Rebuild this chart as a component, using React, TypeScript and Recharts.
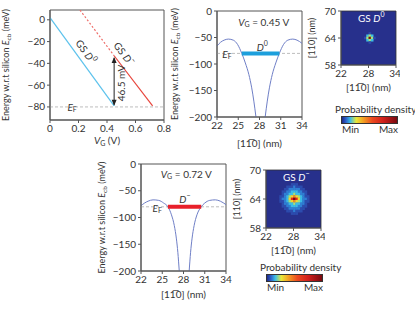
import React from 'react';
import {
  LineChart, Line, XAxis, YAxis, ReferenceLine, ReferenceArea, ReferenceDot,
  ScatterChart, Scatter,
} from 'recharts';

const FONT = 'Lato, "Open Sans", "DejaVu Sans", sans-serif';
const TXT = '#333';
const AX = '#555';

// ---------- Panel A: ground-state energies vs gate voltage ----------
const vgTicks = [0, 0.2, 0.4, 0.6, 0.8];
const energyTicksA = [-80, -60, -40, -20, 0];
const gsD0Line = [{ vg: 0, e: 2 }, { vg: 0.45, e: -79 }];
const gsDmDashed = [{ vg: 0.21, e: 9 }, { vg: 0.45, e: -33 }];
const gsDmSolid = [{ vg: 0.45, e: -33 }, { vg: 0.72, e: -79 }];
const chargingArrow = [{ vg: 0.45, e: -35 }, { vg: 0.45, e: -78 }];
const fermiLevel = -80;

// ---------- Panels B / D: potential profile along [1-10] ----------
const posTicks = [22, 25, 28, 31, 34];
const energyTicksB = [-200, -150, -100, -50, 0];

const potD0Left = [
  { x: 22, e: -66 }, { x: 22.5, e: -59 }, { x: 23, e: -55 }, { x: 23.6, e: -53 },
  { x: 24.3, e: -55 }, { x: 24.9, e: -63 }, { x: 25.5, e: -80 }, { x: 26.0, e: -98 },
  { x: 26.5, e: -120 }, { x: 26.9, e: -145 }, { x: 27.2, e: -170 }, { x: 27.5, e: -200 },
];
const potD0Right = [
  { x: 28.8, e: -200 }, { x: 29.1, e: -170 }, { x: 29.4, e: -145 }, { x: 29.8, e: -120 },
  { x: 30.3, e: -98 }, { x: 30.8, e: -80 }, { x: 31.4, e: -63 }, { x: 32.0, e: -55 },
  { x: 32.7, e: -53 }, { x: 33.3, e: -55 }, { x: 34, e: -61 },
];
const levelD0 = [{ x: 25.5, e: -80 }, { x: 30.8, e: -80 }];

const potDmLeft = [
  { x: 22, e: -78 }, { x: 22.5, e: -73 }, { x: 23, e: -69.5 }, { x: 23.7, e: -67 },
  { x: 24.5, e: -68 }, { x: 25.2, e: -73 }, { x: 25.8, e: -80 }, { x: 26.3, e: -95 },
  { x: 26.7, e: -115 }, { x: 27.0, e: -140 }, { x: 27.2, e: -165 }, { x: 27.4, e: -200 },
];
const potDmRight = [
  { x: 28.8, e: -200 }, { x: 29.0, e: -165 }, { x: 29.2, e: -140 }, { x: 29.5, e: -115 },
  { x: 29.9, e: -95 }, { x: 30.5, e: -80 }, { x: 31.0, e: -73 }, { x: 31.7, e: -68 },
  { x: 32.5, e: -67 }, { x: 33.2, e: -69.5 }, { x: 34, e: -76 },
];
const levelDm = [{ x: 25.8, e: -80 }, { x: 30.5, e: -80 }];

// ---------- Heatmaps: probability density (levels 0..8) ----------
const mapXTicks = [22, 28, 34];
const mapYTicks = [58, 64, 70];
const cellStep = 0.5; // nm
const levelColors = ['#27308c', '#2c4cae', '#2f80d4', '#3bbde6', '#a6e27a', '#f4d62e', '#f08a24', '#e0261c', '#7a0a10'];
const densityD0 = [
  [0, 0, 1, 0, 0],
  [0, 3, 4, 3, 0],
  [1, 4, 8, 4, 1],
  [0, 3, 4, 3, 0],
  [0, 0, 1, 0, 0],
];
const centerD0 = { x: 28.3, y: 64 };
const densityDm = [
  [0, 0, 0, 0, 0, 1, 1, 1, 0, 0, 0, 0, 0],
  [0, 0, 0, 1, 1, 1, 2, 1, 1, 1, 0, 0, 0],
  [0, 0, 1, 1, 2, 2, 2, 2, 2, 1, 1, 0, 0],
  [0, 1, 1, 2, 2, 3, 3, 3, 2, 2, 1, 1, 0],
  [0, 1, 2, 2, 3, 3, 4, 3, 3, 2, 2, 1, 0],
  [1, 1, 2, 3, 4, 5, 6, 5, 4, 3, 2, 1, 1],
  [1, 2, 2, 3, 5, 7, 8, 7, 5, 3, 2, 2, 1],
  [1, 1, 2, 3, 4, 5, 6, 5, 4, 3, 2, 1, 1],
  [0, 1, 2, 2, 3, 3, 4, 3, 3, 2, 2, 1, 0],
  [0, 1, 1, 2, 2, 3, 3, 3, 2, 2, 1, 1, 0],
  [0, 0, 1, 1, 2, 2, 2, 2, 2, 1, 1, 0, 0],
  [0, 0, 0, 1, 1, 1, 2, 1, 1, 1, 0, 0, 0],
  [0, 0, 0, 0, 0, 1, 1, 1, 0, 0, 0, 0, 0],
];
const centerDm = { x: 28.2, y: 64 };

const toCells = (grid: number[][], c: { x: number; y: number }) => {
  const n = grid.length;
  const h = (n - 1) / 2;
  const out: { x: number; y: number; v: number }[] = [];
  grid.forEach((row, r) =>
    row.forEach((v, k) => {
      if (v > 0) out.push({ x: c.x + (k - h) * cellStep, y: c.y - (r - h) * cellStep, v });
    })
  );
  return out;
};

const minus = (v: number) => String(v).replace('-', '\u2212');
const tickStyle = { fontSize: 10, fill: TXT, fontFamily: FONT };

const energyLabel = (dx: number) => (props: any) => {
  const vb = props.viewBox;
  const x = vb.x + dx;
  const y = vb.y + vb.height / 2;
  return (
    <text x={x} y={y} transform={`rotate(-90 ${x} ${y})`} textAnchor="middle" fontSize={9} fill={TXT} fontFamily={FONT}>
      Energy w.r.t silicon <tspan fontStyle="italic">E</tspan>
      <tspan fontSize={6.5} dy={2}>cb</tspan>
      <tspan dy={-2}> (meV)</tspan>
    </text>
  );
};

const posLabel = (dy: number) => (props: any) => {
  const vb = props.viewBox;
  const x = vb.x + vb.width / 2;
  const y = vb.y + dy;
  return (
    <text x={x} y={y} textAnchor="middle" fontSize={10} fill={TXT} fontFamily={FONT}>
      [11{'\u0305'}0] (nm)
    </text>
  );
};

const arrowDot = (p: any) => {
  const { cx, cy, index } = p;
  const d = index === 0
    ? `M${cx},${cy - 1} L${cx - 2.5},${cy + 5} L${cx + 2.5},${cy + 5} Z`
    : `M${cx},${cy + 1} L${cx - 2.5},${cy - 5} L${cx + 2.5},${cy - 5} Z`;
  return <path key={`arr${index}`} d={d} fill="#222" />;
};

const EF = (cx: number, cy: number) => (
  <text x={cx} y={cy} textAnchor="middle" dominantBaseline="central" fontSize={10} fill={TXT} fontFamily={FONT}>
    <tspan fontStyle="italic">E</tspan>
    <tspan fontSize={7} dy={2}>F</tspan>
  </text>
);

function PanelA() {
  return (
    <LineChart width={175} height={150} margin={{ top: 10, right: 11, left: 0, bottom: 0 }}>
      <XAxis type="number" dataKey="vg" domain={[0, 0.8]} ticks={vgTicks} tick={tickStyle} tickSize={3}
        stroke={AX} height={30} allowDuplicatedCategory={false}
        label={{
          content: (props: any) => {
            const vb = props.viewBox;
            const x = vb.x + vb.width / 2;
            return (
              <text x={x} y={vb.y + 24} textAnchor="middle" fontSize={10} fill={TXT} fontFamily={FONT}>
                <tspan fontStyle="italic">V</tspan>
                <tspan fontSize={7} dy={2}>G</tspan>
                <tspan dy={-2}> (V)</tspan>
              </text>
            );
          },
        }} />
      <YAxis type="number" dataKey="e" domain={[-92, 9]} ticks={energyTicksA} tick={tickStyle} tickSize={3}
        tickFormatter={minus} stroke={AX} width={50} allowDataOverflow
        label={{ content: energyLabel(9) }} />
      <ReferenceArea x1={0} x2={0.8} y1={-92} y2={9} fill="none" stroke={AX} strokeWidth={1} />
      <ReferenceLine y={fermiLevel} stroke="#bdbdbd" strokeDasharray="3 2" />
      <Line data={gsD0Line} dataKey="e" stroke="#5cc2ec" strokeWidth={1.2} dot={false} isAnimationActive={false} />
      <Line data={gsDmDashed} dataKey="e" stroke="#ee6e6a" strokeWidth={1.2} strokeDasharray="2 2" dot={false} isAnimationActive={false} />
      <Line data={gsDmSolid} dataKey="e" stroke="#e8453c" strokeWidth={1.2} dot={false} isAnimationActive={false} />
      <Line data={chargingArrow} dataKey="e" stroke="#222" strokeWidth={1} dot={arrowDot} isAnimationActive={false} />
      <ReferenceDot x={0.155} y={-80} shape={(p: any) => EF(p.cx, p.cy)} />
      <ReferenceDot x={0.5} y={-58} shape={(p: any) => (
        <text x={p.cx} y={p.cy} transform={`rotate(-90 ${p.cx} ${p.cy})`} textAnchor="middle" dominantBaseline="central" fontSize={10} fill={TXT} fontFamily={FONT}>46.5 mV</text>
      )} />
      <ReferenceDot x={0.253} y={-29} shape={(p: any) => (
        <text x={p.cx} y={p.cy} transform={`rotate(54 ${p.cx} ${p.cy})`} textAnchor="middle" dominantBaseline="central" fontSize={10} fill={TXT} fontFamily={FONT}>
          GS <tspan fontStyle="italic">D</tspan><tspan fontSize={7} dy={-4}>0</tspan>
        </text>
      )} />
      <ReferenceDot x={0.52} y={-31} shape={(p: any) => (
        <text x={p.cx} y={p.cy} transform={`rotate(53 ${p.cx} ${p.cy})`} textAnchor="middle" dominantBaseline="central" fontSize={10} fill={TXT} fontFamily={FONT}>
          GS <tspan fontStyle="italic">D</tspan><tspan fontSize={7} dy={-4}>{'\u2212'}</tspan>
        </text>
      )} />
    </LineChart>
  );
}

function PotentialPanel(props: {
  width: number; height: number; margin: any; yWidth: number; xHeight: number; labelDx: number; labelDy: number;
  left: any[]; right: any[]; level: any[]; levelColor: string; vg: string; state: string;
  vgPos: [number, number]; statePos: [number, number]; efPos: [number, number];
}) {
  const p = props;
  return (
    <LineChart width={p.width} height={p.height} margin={p.margin}>
      <XAxis type="number" dataKey="x" domain={[22, 34]} ticks={posTicks} tick={tickStyle} tickSize={3}
        stroke={AX} height={p.xHeight} label={{ content: posLabel(p.labelDy) }} />
      <YAxis type="number" dataKey="e" domain={[-200, 0]} ticks={energyTicksB} tick={tickStyle} tickSize={3}
        tickFormatter={minus} stroke={AX} width={p.yWidth} allowDataOverflow
        label={{ content: energyLabel(p.labelDx) }} />
      <ReferenceArea x1={22} x2={34} y1={-200} y2={0} fill="none" stroke={AX} strokeWidth={1} />
      <ReferenceLine y={fermiLevel} stroke="#bdbdbd" strokeDasharray="3 2" />
      <Line data={p.left} dataKey="e" type="monotone" stroke="#6f7fc6" strokeWidth={1} dot={false} isAnimationActive={false} />
      <Line data={p.right} dataKey="e" type="monotone" stroke="#6f7fc6" strokeWidth={1} dot={false} isAnimationActive={false} />
      <Line data={p.level} dataKey="e" stroke={p.levelColor} strokeWidth={4} dot={false} isAnimationActive={false} />
      <ReferenceDot x={p.efPos[0]} y={p.efPos[1]} shape={(q: any) => EF(q.cx, q.cy)} />
      <ReferenceDot x={p.vgPos[0]} y={p.vgPos[1]} shape={(q: any) => (
        <text x={q.cx} y={q.cy} textAnchor="middle" dominantBaseline="central" fontSize={10} fill={TXT} fontFamily={FONT}>
          <tspan fontStyle="italic">V</tspan><tspan fontSize={7} dy={2}>G</tspan><tspan dy={-2}> = {p.vg} V</tspan>
        </text>
      )} />
      <ReferenceDot x={p.statePos[0]} y={p.statePos[1]} shape={(q: any) => (
        <text x={q.cx} y={q.cy} textAnchor="middle" dominantBaseline="central" fontSize={10} fill={TXT} fontFamily={FONT}>
          <tspan fontStyle="italic">D</tspan><tspan fontSize={7} dy={-4}>{p.state}</tspan>
        </text>
      )} />
    </LineChart>
  );
}

function Heatmap(props: { grid: number[][]; center: { x: number; y: number }; state: string; marginTop: number; plotH: number; xHeight: number }) {
  const W = 100;
  const plotW = 55;
  const plotH = props.plotH;
  const H = props.marginTop + plotH + props.xHeight;
  const cw = (plotW / 12) * cellStep + 0.35;
  const ch = (plotH / 12) * cellStep + 0.35;
  const cells = toCells(props.grid, props.center);
  return (
    <ScatterChart width={W} height={H} margin={{ top: props.marginTop, right: W - 41 - plotW, left: 0, bottom: 0 }}>
      <XAxis type="number" dataKey="x" domain={[22, 34]} ticks={mapXTicks} tick={tickStyle} tickSize={3}
        stroke={AX} height={props.xHeight} label={{ content: posLabel(26) }} />
      <YAxis type="number" dataKey="y" domain={[58, 70]} ticks={mapYTicks} tick={tickStyle} tickSize={3}
        stroke={AX} width={41}
        label={{
          content: (q: any) => {
            const vb = q.viewBox;
            const x = vb.x + 15;
            const y = vb.y + vb.height / 2;
            return (
              <text x={x} y={y} transform={`rotate(-90 ${x} ${y})`} textAnchor="middle" fontSize={9} fill={TXT} fontFamily={FONT}>[110] (nm)</text>
            );
          },
        }} />
      <ReferenceArea x1={22} x2={34} y1={58} y2={70} fill={levelColors[0]} fillOpacity={1} stroke="#333" strokeWidth={0.8} />
      <Scatter data={cells} isAnimationActive={false} shape={(q: any) => (
        <rect x={q.cx - cw / 2} y={q.cy - ch / 2} width={cw} height={ch} fill={levelColors[q.payload.v]} />
      )} />
      <ReferenceDot x={28.6} y={68.5} shape={(q: any) => (
        <text x={q.cx} y={q.cy} textAnchor="middle" dominantBaseline="central" fontSize={10} fill="#fff" fontFamily={FONT}>
          GS  <tspan fontStyle="italic">D</tspan><tspan fontSize={7} dy={-4}>{props.state}</tspan>
        </text>
      )} />
    </ScatterChart>
  );
}

const colorbarGradient =
  'linear-gradient(to right, #1f2a88 0%, #2d5fc8 7%, #3bbde6 15%, #e8e838 26%, #f4a424 38%, #ec4a20 55%, #d0201c 75%, #7a0a10 100%)';

function Colorbar(props: { left: number; top: number }) {
  const t: React.CSSProperties = { position: 'absolute', fontSize: 10, color: TXT, fontFamily: FONT, lineHeight: '10px', whiteSpace: 'nowrap' };
  return (
    <div style={{ position: 'absolute', left: props.left, top: props.top, width: 56, height: 32 }}>
      <div style={{ ...t, left: -6, top: 0, width: 68, textAlign: 'center' }}>Probability density</div>
      <div style={{ position: 'absolute', left: 0, top: 12, width: 55, height: 6, background: colorbarGradient, border: '0.5px solid #333' }} />
      <div style={{ ...t, left: 1, top: 20 }}>Min</div>
      <div style={{ ...t, right: -1, top: 20 }}>Max</div>
    </div>
  );
}

export default function App() {
  const abs = (l: number, t: number): React.CSSProperties => ({ position: 'absolute', left: l, top: t });
  return (
    <div style={{ position: 'fixed', left: 0, top: 0, width: 415, height: 312, background: '#fff', fontFamily: FONT, overflow: 'hidden' }}>
      <div style={abs(0, 0)}><PanelA /></div>
      <div style={abs(160, 0)}>
        <PotentialPanel width={150} height={150} margin={{ top: 11, right: 8, left: 0, bottom: 0 }} yWidth={57} xHeight={33}
          labelDx={18} labelDy={30} left={potD0Left} right={potD0Right} level={levelD0} levelColor="#1d9fdc"
          vg="0.45" state="0" vgPos={[28.6, -21]} statePos={[28.4, -68]} efPos={[23.4, -82]} />
      </div>
      <div style={abs(300, 0)}>
        <Heatmap grid={densityD0} center={centerD0} state="0" marginTop={11} plotH={54} xHeight={38} />
      </div>
      <div style={abs(341, 104)}><Colorbar left={0} top={0} /></div>
      <div style={abs(60, 150)}>
        <PotentialPanel width={175} height={160} margin={{ top: 14, right: 9, left: 0, bottom: 0 }} yWidth={81} xHeight={39}
          labelDx={45} labelDy={27} left={potDmLeft} right={potDmRight} level={levelDm} levelColor="#e8202a"
          vg="0.72" state={'\u2212'} vgPos={[28.4, -19]} statePos={[28.2, -66]} efPos={[24.3, -83]} />
      </div>
      <div style={abs(225, 150)}>
        <Heatmap grid={densityDm} center={centerDm} state={'\u2212'} marginTop={20} plotH={58} xHeight={32} />
      </div>
      <div style={abs(266, 262)}><Colorbar left={0} top={0} /></div>
    </div>
  );
}
